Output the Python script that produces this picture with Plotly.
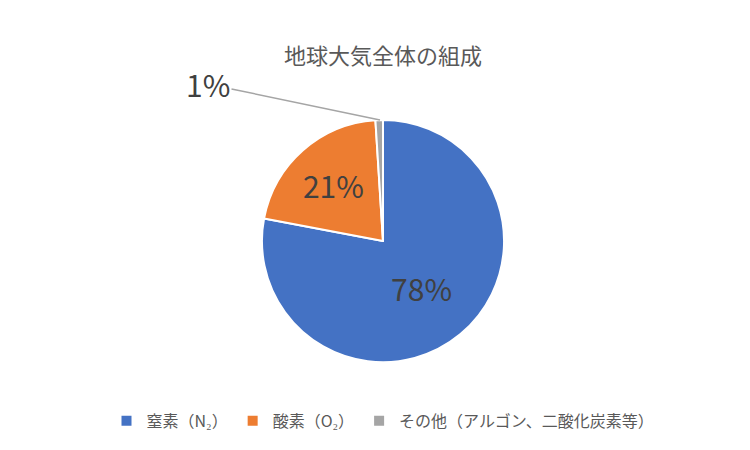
import plotly.graph_objects as go

labels = ["窒素（N₂）", "酸素（O₂）", "その他（アルゴン、二酸化炭素等）"]
values = [78, 21, 1]
colors = ["#4472C4", "#ED7D31", "#A5A5A5"]
font = "Noto Sans CJK JP"

fig = go.Figure(go.Pie(
    labels=labels, values=values, sort=False, direction="clockwise", rotation=0,
    marker=dict(colors=colors, line=dict(color="white", width=2)),
    texttemplate=["%{percent:.0%}", "%{percent:.0%}", ""],
    textposition="inside", insidetextorientation="horizontal",
    textfont=dict(size=30, color="#404040", family=font),
    domain=dict(x=[0, 1], y=[0.213, 0.751]),
    hoverinfo="label+percent",
))

# small slice label sits outside with a leader line
fig.add_annotation(
    x=0.496, y=0.751, xref="paper", yref="paper", text="1%",
    showarrow=True, arrowhead=0, arrowcolor="#A5A5A5", arrowwidth=1.5,
    ax=-172, ay=-36, xanchor="center",
    font=dict(size=30, color="#404040", family=font),
)

fig.update_layout(
    width=750, height=450,
    margin=dict(l=0, r=0, t=0, b=0),
    paper_bgcolor="white",
    title=dict(text="地球大気全体の組成", x=0.5, y=0.91, xanchor="center",
               font=dict(size=22, color="#595959", family=font)),
    legend=dict(orientation="h", x=0.5, xanchor="center", y=0.045, yanchor="bottom",
                font=dict(size=16, color="#595959", family=font)),
)

fig.write_html("out.html")
